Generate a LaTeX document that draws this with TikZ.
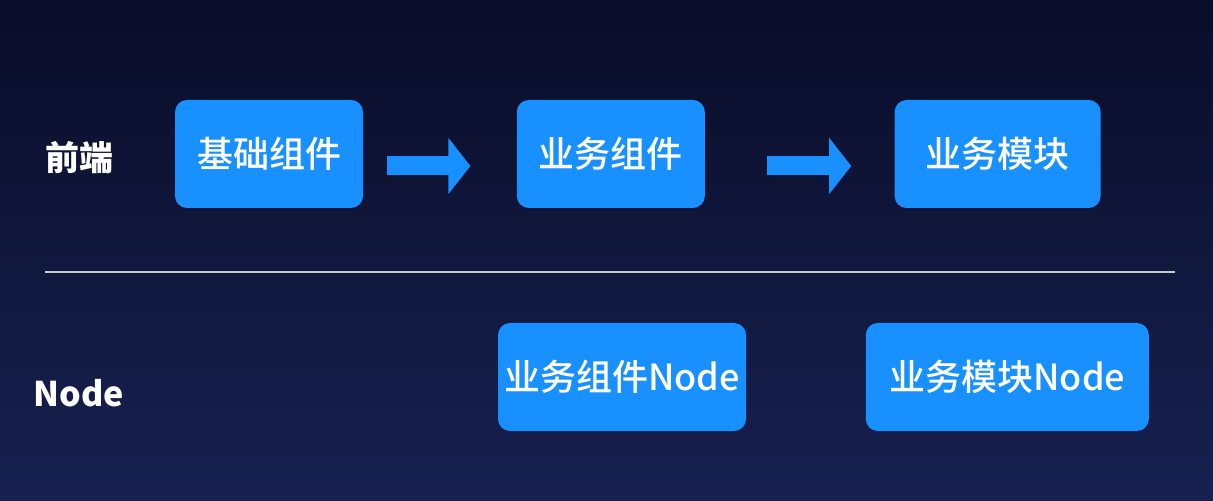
\documentclass[tikz,border=0pt]{standalone}
\usepackage{fontspec}
\newfontfamily\cjk{Noto Sans CJK SC}
\newfontfamily\cjkmed{Noto Sans CJK SC Medium}
\usetikzlibrary{arrows.meta,positioning}
\definecolor{bgtop}{RGB}{10,13,41}
\definecolor{bgbot}{RGB}{23,33,80}
\definecolor{boxblue}{RGB}{24,144,255}
\definecolor{rule}{RGB}{200,202,214}

\begin{document}
\begin{tikzpicture}[x=0.5pt,y=-0.5pt,>=Latex]
  \tikzstyle{box}=[fill=boxblue,rounded corners=6pt,text=white,align=center,minimum height=54pt,inner sep=2pt,font=\cjkmed\fontsize{18}{20}\selectfont]
  \tikzstyle{side}=[text=white,font=\cjk\bfseries\fontsize{17}{20}\selectfont]
  \tikzstyle{blockarrow}=[draw=boxblue,line width=9.5pt,-{Triangle[length=11pt,width=27.5pt,fill=boxblue]}]
  \shade[top color=bgtop,bottom color=bgbot] (0,0) rectangle (1213,501);
  \useasboundingbox (0,0) rectangle (1213,501);
  % front end row
  \node[box,minimum width=94pt] (jc) at (269,154) {基础组件};
  \node[box,minimum width=94pt,right=76.5pt of jc] (ywzj) {业务组件};
  \node[box,minimum width=103pt,right=94.5pt of ywzj] (ywmk) {业务模块};
  \node[side] (fe) at (79,158) {前端};
  \draw[blockarrow] ([xshift=12pt,yshift=-6pt]jc.east) -- ([xshift=-23pt,yshift=-6pt]ywzj.west);
  \draw[blockarrow] ([xshift=31pt,yshift=-6pt]ywzj.east) -- ([xshift=-21.5pt,yshift=-6pt]ywmk.west);
  % divider
  \coordinate (l) at (45,272);
  \coordinate (r) at (1175,272);
  \draw[rule,line width=0.6pt] (l) -- (r);
  % node row
  \node[box,minimum width=124pt] (ywzjn) at (622,377) {业务组件Node};
  \node[box,minimum width=141.5pt,right=59.5pt of ywzjn] (ywmkn) {业务模块Node};
  \node[side] (nd) at (79,393) {Node};
\end{tikzpicture}
\end{document}
